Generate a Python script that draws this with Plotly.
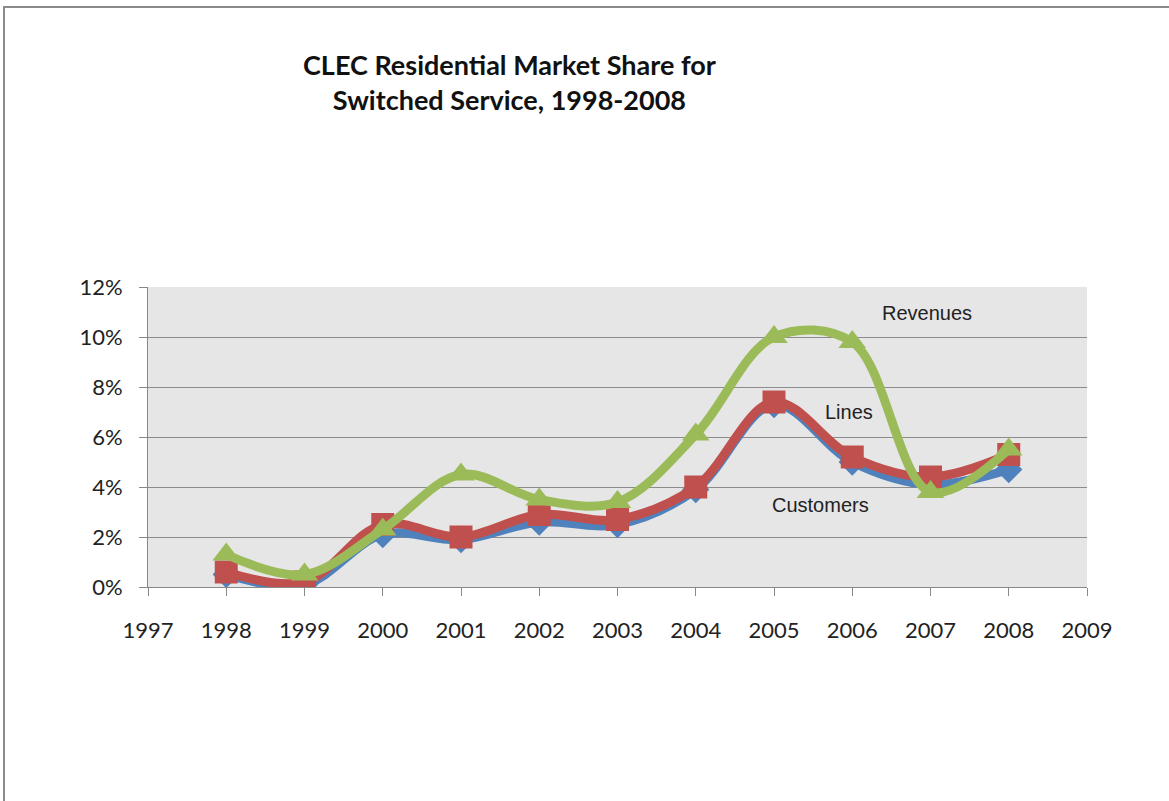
import plotly.graph_objects as go

# Market share by year (fraction of residential switched service)
years = [1998, 1999, 2000, 2001, 2002, 2003, 2004, 2005, 2006, 2007, 2008]
customers = [0.005, 0.001, 0.021, 0.019, 0.026, 0.025, 0.039, 0.073, 0.050, 0.041, 0.047]
lines = [0.006, 0.002, 0.025, 0.020, 0.029, 0.027, 0.040, 0.074, 0.052, 0.044, 0.053]
revenues = [0.013, 0.005, 0.023, 0.045, 0.035, 0.034, 0.061, 0.100, 0.098, 0.038, 0.055]

x_ticks = list(range(1997, 2010))
y_ticks = [0, 0.02, 0.04, 0.06, 0.08, 0.10, 0.12]

series_labels = ["Revenues", "Lines", "Customers"]
label_x = [2006.96, 2005.96, 2005.6]
label_y = [0.1096, 0.070, 0.0328]

W, H = 1169, 801
L, R, T, B = 148, 82, 287, 214

fig = go.Figure()
fig.add_trace(go.Scatter(
    x=years, y=customers, name="Customers", mode="lines+markers",
    line=dict(color="#4f81bd", width=9, shape="spline", smoothing=1.0),
    marker=dict(symbol="diamond", size=21, color="#4f81bd"),
))
fig.add_trace(go.Scatter(
    x=years, y=lines, name="Lines", mode="lines+markers",
    line=dict(color="#c0504d", width=9, shape="spline", smoothing=1.0),
    marker=dict(symbol="square", size=23, color="#c0504d"),
))
fig.add_trace(go.Scatter(
    x=years, y=revenues, name="Revenues", mode="lines+markers",
    line=dict(color="#9bbb59", width=9, shape="spline", smoothing=1.0),
    marker=dict(symbol="triangle-up", size=24, color="#9bbb59"),
))

for txt, lx, ly in zip(series_labels, label_x, label_y):
    fig.add_annotation(x=lx, y=ly, text=txt, showarrow=False,
                       font=dict(family="Liberation Sans, Arial", size=20, color="#222"))

# title as two centered lines
pw, ph = W - L - R, H - T - B
fig.add_annotation(
    xref="paper", yref="paper",
    x=(509 - L) / pw, y=(H - B - 82) / ph,
    xanchor="center", yanchor="middle",
    text="<b>CLEC Residential Market Share for<br>Switched Service, 1998-2008</b>",
    showarrow=False, align="center",
    font=dict(family="Lato, Open Sans", size=27, color="#111"),
)

# chart area border (top and left visible)
fig.add_shape(type="rect", xref="paper", yref="paper",
              x0=(4 - L) / pw, x1=(W + 20 - L) / pw,
              y0=-(H + 20 - T - ph) / ph, y1=(H - B - 7) / ph,
              line=dict(color="#8a8a8a", width=2), fillcolor="rgba(0,0,0,0)", layer="below")

fig.update_layout(
    width=W, height=H,
    margin=dict(l=L, r=R, t=T, b=B, pad=0),
    paper_bgcolor="white",
    plot_bgcolor="#e6e6e6",
    showlegend=False,
    font=dict(family="Lato, Open Sans", size=22, color="#222"),
)
fig.update_xaxes(
    range=[1997, 2009], tickvals=x_ticks, ticktext=[str(v) for v in x_ticks],
    showgrid=False, zeroline=False,
    showline=True, linecolor="#888", linewidth=1,
    ticks="outside", ticklen=8, tickcolor="#888",
    ticklabelstandoff=16,
    tickfont=dict(size=22, color="#222"),
)
fig.update_yaxes(
    range=[0, 0.12], tickvals=y_ticks, tickformat=".0%",
    showgrid=True, gridcolor="#8c8c8c", gridwidth=1, zeroline=False,
    showline=True, linecolor="#888", linewidth=1,
    ticks="outside", ticklen=8, tickcolor="#888",
    ticklabelstandoff=12,
    tickfont=dict(size=22, color="#222"),
)

fig.write_html("out.html")
